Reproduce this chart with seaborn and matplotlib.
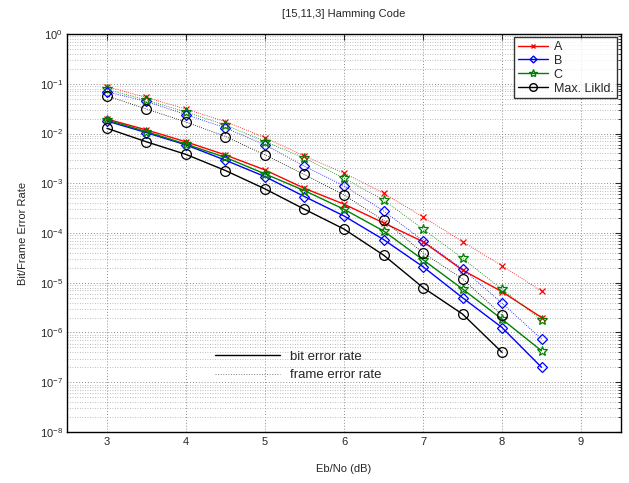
import seaborn as sns
import matplotlib.pyplot as plt
from matplotlib.lines import Line2D
from matplotlib.ticker import LogLocator, NullFormatter
import pandas as pd
import numpy as np

# DATA #
snr = [3, 3.5, 4, 4.5, 5, 5.5, 6, 6.5, 7, 7.5, 8, 8.5]

ber_a = [1.95e-2, 1.18e-2, 6.8e-3, 3.7e-3, 1.85e-3, 7.9e-4, 3.8e-4, 1.6e-4, 6.7e-5, 1.8e-5, 6.6e-6, 2.0e-6]
ber_b = [1.78e-2, 1.04e-2, 5.9e-3, 2.9e-3, 1.36e-3, 5.4e-4, 2.2e-4, 7.4e-5, 2.1e-5, 5.0e-6, 1.26e-6, 2.0e-7]
ber_c = [1.87e-2, 1.09e-2, 6.1e-3, 3.3e-3, 1.54e-3, 7.1e-4, 3.0e-4, 1.1e-4, 2.9e-5, 7.5e-6, 1.85e-6, 4.3e-7]
ber_ml = [1.27e-2, 6.8e-3, 3.8e-3, 1.8e-3, 7.7e-4, 3.0e-4, 1.2e-4, 3.6e-5, 8.0e-6, 2.35e-6, 4.0e-7, np.nan]

fer_a = [8.7e-2, 5.3e-2, 3.1e-2, 1.73e-2, 8.3e-3, 3.5e-3, 1.6e-3, 6.3e-4, 2.1e-4, 6.7e-5, 2.2e-5, 6.8e-6]
fer_b = [6.9e-2, 4.4e-2, 2.4e-2, 1.3e-2, 5.9e-3, 2.2e-3, 8.9e-4, 2.8e-4, 7.0e-5, 1.9e-5, 3.9e-6, 7.4e-7]
fer_c = [7.7e-2, 4.7e-2, 2.7e-2, 1.48e-2, 6.9e-3, 3.2e-3, 1.26e-3, 4.6e-4, 1.2e-4, 3.1e-5, 7.4e-6, 1.78e-6]
fer_ml = [5.7e-2, 3.1e-2, 1.7e-2, 8.7e-3, 3.7e-3, 1.5e-3, 5.8e-4, 1.8e-4, 4.0e-5, 1.2e-5, 2.24e-6, np.nan]

decoders = ['A', 'B', 'C', 'Max. Likld.']
ber = {'A': ber_a, 'B': ber_b, 'C': ber_c, 'Max. Likld.': ber_ml}
fer = {'A': fer_a, 'B': fer_b, 'C': fer_c, 'Max. Likld.': fer_ml}

rows = []
for d in decoders:
    for x, b, f in zip(snr, ber[d], fer[d]):
        rows.append({'snr': x, 'rate': b, 'decoder': d, 'kind': 'bit'})
        rows.append({'snr': x, 'rate': f, 'decoder': d, 'kind': 'frame'})
df = pd.DataFrame(rows).dropna()

colors = {'A': '#ff0000', 'B': '#0000ff', 'C': '#008000', 'Max. Likld.': '#000000'}
markers = {'A': 'x', 'B': 'D', 'C': '*', 'Max. Likld.': 'o'}
msizes = {'A': 4.5, 'B': 5, 'C': 7.5, 'Max. Likld.': 7}

# PLOT #
sns.set_style('white')
plt.rcParams['font.family'] = ['Liberation Sans', 'DejaVu Sans']
plt.rcParams['mathtext.fontset'] = 'custom'
plt.rcParams['mathtext.rm'] = 'Liberation Sans'

fig = plt.figure(figsize=(6.29, 4.83), dpi=100)
ax = fig.add_axes([0.1073, 0.1056, 0.8792, 0.824])

for d in decoders:
    for kind, ls, lw in [('bit', '-', 1.0), ('frame', ':', 0.6)]:
        sub = df[(df.decoder == d) & (df.kind == kind)]
        sns.lineplot(data=sub, x='snr', y='rate', ax=ax, color=colors[d], linestyle=ls, lw=lw,
                     marker=markers[d], markersize=msizes[d], markerfacecolor='none',
                     markeredgecolor=colors[d], markeredgewidth=0.9, legend=False)

ax.set_yscale('log')
ax.set_xlim(2.5, 9.5)
ax.set_ylim(1e-8, 1)
ax.set_xticks(range(3, 10))
ax.yaxis.set_major_locator(LogLocator(base=10, numticks=20))
ax.yaxis.set_minor_locator(LogLocator(base=10, subs=np.arange(2, 10), numticks=20))
ax.yaxis.set_minor_formatter(NullFormatter())
ax.grid(True, which='major', color='#8c8c8c', linestyle=(0, (1, 2)), lw=0.7)
ax.grid(True, which='minor', axis='y', color='#a8a8a8', linestyle=(0, (1, 2)), lw=0.6)
ax.tick_params(which='both', direction='in', labelsize=8, top=True, right=True)
ax.tick_params(which='major', length=4)
ax.tick_params(which='minor', length=2)
for s in ax.spines.values():
    s.set_color('black')
    s.set_linewidth(1.0)

ax.set_xlabel('Eb/No (dB)', fontsize=8, labelpad=12)
ax.set_ylabel('Bit/Frame Error Rate', fontsize=8, labelpad=8)
ax.set_title('[15,11,3] Hamming Code', fontsize=8, pad=12)

handles = [Line2D([], [], color=colors[d], marker=markers[d], markersize=msizes[d] - 1.5,
                  markerfacecolor='none', lw=1.0) for d in decoders]
leg1 = ax.legend(handles, decoders, loc='upper right', fontsize=9, frameon=True, fancybox=False,
                 edgecolor='black', borderaxespad=0.25, handlelength=2.4, labelspacing=0.15,
                 borderpad=0.3, handletextpad=0.5)
leg1.get_frame().set_linewidth(1.0)
ax.add_artist(leg1)

h2 = [Line2D([], [], color='black', lw=1.0, ls='-'),
      Line2D([], [], color='#808080', lw=0.7, ls=':')]
ax.legend(h2, ['bit error rate', 'frame error rate'], loc='upper left', bbox_to_anchor=(0.245, 0.235),
          frameon=False, fontsize=9.5, handlelength=4.9, labelspacing=0.5, handletextpad=0.8)

plt.savefig('out.png', dpi=100)
